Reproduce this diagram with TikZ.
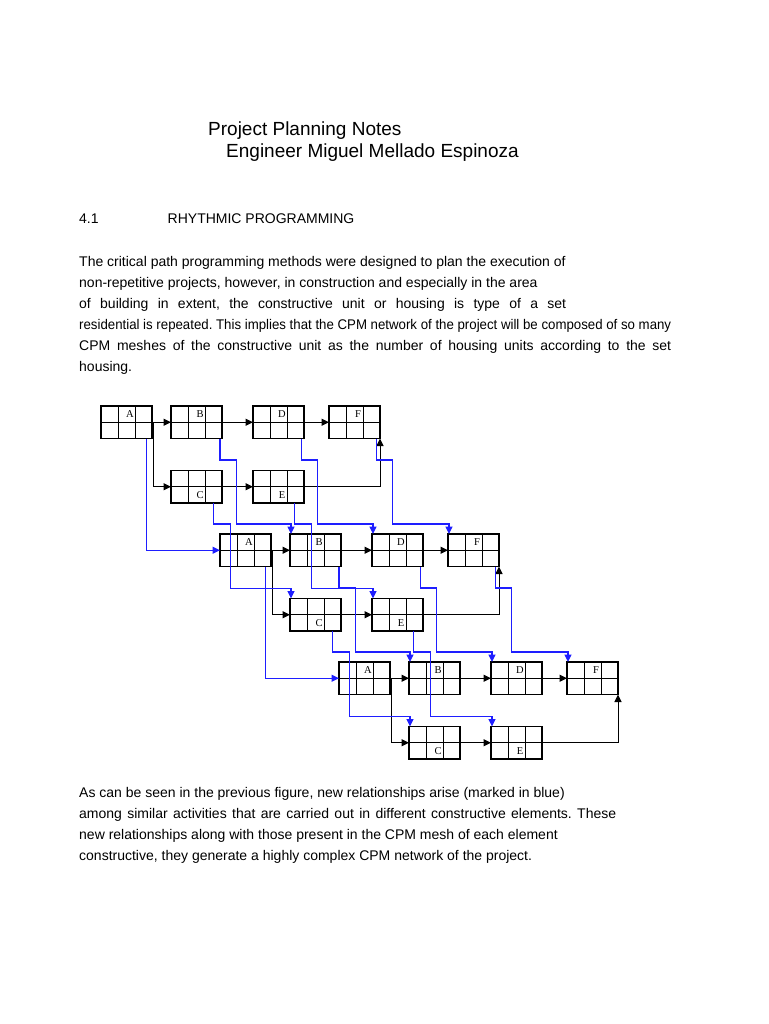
\documentclass[tikz,border=0pt]{standalone}
\usepackage{fontspec}
\usepackage{graphicx}
\setmainfont{Liberation Sans}
\newfontfamily\lblfont{Liberation Serif}
\usetikzlibrary{arrows.meta}
\definecolor{cpmblue}{RGB}{30,30,255}
\frenchspacing
\tikzset{
  cpm/.style={draw=black, line width=1.1pt, minimum width=51pt, minimum height=32.5pt, inner sep=0pt, outer sep=0pt, anchor=north west},
  gridln/.style={draw=black, line width=1pt},
  lbl/.style={font=\lblfont\fontsize{10.5}{10.5}\selectfont, inner sep=0pt},
  blk/.style={draw=black, line width=1pt, -{Triangle[length=7.5pt,width=7pt]}},
  blu/.style={draw=cpmblue, line width=1.2pt, -{Triangle[length=7.5pt,width=7pt]}},
  txt/.style={anchor=base west, inner sep=0pt, font=\fontsize{14}{14}\selectfont},
  ttl/.style={anchor=base west, inner sep=0pt, font=\fontsize{19}{19}\selectfont},
}
% name, x, y (top-left), label, row (0 top, 1 bottom)
\newcommand\cpmbox[5]{%
  \node[cpm] (#1) at (#2,#3) {};
  \draw[gridln] (#2,#3+16.25) -- (#2+51,#3+16.25)
                (#2+17,#3) -- (#2+17,#3+32.5)
                (#2+34,#3) -- (#2+34,#3+32.5);
  \node[lbl] (#1l) at (#2+29,#3+8.5+#5*16) {#4};
}
% mesh index, dx, dy
\newcommand\cpmmesh[3]{%
  \cpmbox{A#1}{101+#2}{406+#3}{A}{0}
  \cpmbox{B#1}{171+#2}{406+#3}{B}{0}
  \cpmbox{D#1}{253+#2}{406+#3}{D}{0}
  \cpmbox{F#1}{329+#2}{406+#3}{F}{0}
  \cpmbox{C#1}{171+#2}{470.5+#3}{C}{1}
  \cpmbox{E#1}{253+#2}{470.5+#3}{E}{1}
  \draw[blk] (A#1.east) -- (B#1.west);
  \draw[blk] (B#1.east) -- (D#1.west);
  \draw[blk] (D#1.east) -- (F#1.west);
  \draw[blk] (A#1.east) -- ++(1,0) |- (C#1.west);
  \draw[blk] (C#1.east) -- (E#1.west);
  \draw[blk] (E#1.east) -| (F#1.south east);
}
% from mesh, to mesh
\newcommand\cpmlink[2]{%
  \draw[blu] ([xshift=20.2pt]A#1.south) |- (A#2.west);
  \draw[blu] ([xshift=23.5pt]B#1.south) -- ++(0,21.5) -- ++(16.5,0) |- ([xshift=1pt,yshift=10pt]B#2.north west) -- ([xshift=1pt]B#2.north west);
  \draw[blu] ([xshift=23.2pt]D#1.south) -- ++(0,21.5) -- ++(15.8,0) |- ([xshift=1pt,yshift=10pt]D#2.north west) -- ([xshift=1pt]D#2.north west);
  \draw[blu] ([xshift=22.2pt]F#1.south) -- ++(0,21.5) -- ++(15.8,0) |- ([xshift=1pt,yshift=10pt]F#2.north west) -- ([xshift=1pt]F#2.north west);
  \draw[blu] ([xshift=16.8pt]C#1.south) -- ++(0,21) -- ++(17,0) |- ([xshift=1pt,yshift=10pt]C#2.north west) -- ([xshift=1pt]C#2.north west);
  \draw[blu] ([xshift=15.8pt]E#1.south) -- ++(0,21) -- ++(17.5,0) |- ([xshift=1pt,yshift=10pt]E#2.north west) -- ([xshift=1pt]E#2.north west);
}
\begin{document}
\begin{tikzpicture}[x=1pt,y=-1pt]
\useasboundingbox (0,0) rectangle (768,1024);
\fill[white] (0,0) rectangle (768,1024);

% heading
\node[ttl] (title1) at (208,136) {Project Planning Notes};
\node[ttl] (title2) at (226,158) {Engineer Miguel Mellado Espinoza};
\node[txt] (secnum) at (79,223) {4.1};
\node[txt] (secname) at (167.5,223) {RHYTHMIC PROGRAMMING};

% paragraph 1
\node[txt] (p1a) at (79,266) {The critical path programming methods were designed to plan the execution of};
\node[txt] (p1b) at (79,287) {non-repetitive projects, however, in construction and especially in the area};
\node[txt] (p1c) at (79,308) {\makebox[487pt][s]{of building in extent, the constructive unit or housing is type of a set}};
\node[txt] (p1d) at (79,329) {\resizebox{592pt}{\height}{residential is repeated. This implies that the CPM network of the project will be composed of so many}};
\node[txt] (p1e) at (79,350) {\makebox[592pt][s]{CPM meshes of the constructive unit as the number of housing units according to the set}};
\node[txt] (p1f) at (79,371) {housing.};

% network
\cpmmesh{1}{0}{0}
\cpmmesh{2}{119}{128}
\cpmmesh{3}{238}{256}
\cpmlink{1}{2}
\cpmlink{2}{3}

% paragraph 2
\node[txt] (p2a) at (79,797) {As can be seen in the previous figure, new relationships arise (marked in blue)};
\node[txt] (p2b) at (79,818) {\makebox[537pt][s]{among similar activities that are carried out in different constructive elements. These}};
\node[txt] (p2c) at (79,839) {new relationships along with those present in the CPM mesh of each element};
\node[txt] (p2d) at (79,860) {constructive, they generate a highly complex CPM network of the project.};
\end{tikzpicture}
\end{document}
